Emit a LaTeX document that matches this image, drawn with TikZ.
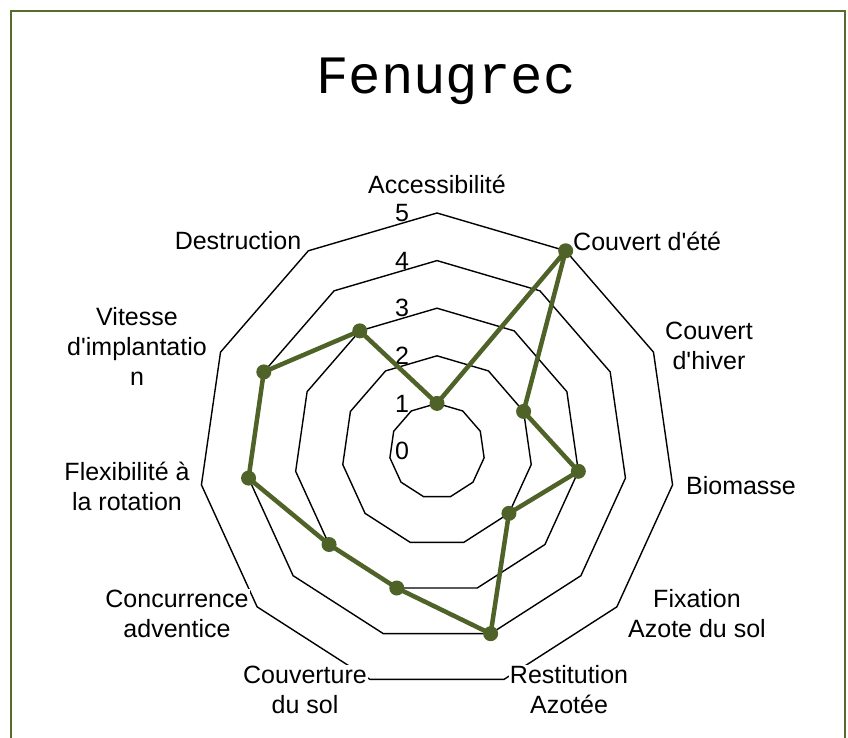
\documentclass[tikz,border=0pt]{standalone}
\usepackage{fontspec}
\newfontfamily\labfont{Liberation Sans}
\newfontfamily\titlefont{Liberation Mono}
\definecolor{dataol}{RGB}{79,98,40}
\definecolor{borderol}{RGB}{88,108,48}
\begin{document}
\begin{tikzpicture}[x=1pt,y=-1pt,
  lab/.style={font=\labfont\fontsize{25}{30}\selectfont, align=center, fill=white, inner sep=1pt},
  lvl/.style={font=\labfont\fontsize{25}{30}\selectfont, inner sep=0pt},
  gridline/.style={draw=black, line width=1.4pt, line join=miter},
  dataline/.style={draw=dataol, line width=4.5pt, line join=round},
  datadot/.style={fill=dataol}]
\useasboundingbox (0,0) rectangle (848,738);
\fill[white] (0,0) rectangle (848,738);
\draw[borderol, line width=2.6pt] (11,740) -- (11,11) -- (845,11) -- (845,740);
\node (title) at (446,81) {\titlefont\fontsize{54}{60}\selectfont Fenugrec};
\begin{scope}[shift={(437,451)}]
  \coordinate (C) at (0,0);
  \foreach \l in {1,...,5} {
    \draw[gridline] (-90:\l*47.6) \foreach \k in {1,...,10} { -- (\k*360/11-90:\l*47.6) } -- cycle;
  }
  \foreach \l in {0,...,5} {
    \node[lvl] (lv\l) at (-35,-\l*47.6) {\l};
  }
\end{scope}
% axis labels
\node[lab] (a0) at (437,184) {Accessibilité};
\node[lab, anchor=west] (a1) at (572,241) {Couvert d'été};
\node[lab] (a2) at (709,346) {Couvert\\d'hiver};
\node[lab] (a3) at (741,486) {Biomasse};
\node[lab] (a4) at (697,614) {Fixation\\Azote du sol};
\node[lab] (a5) at (569,690) {Restitution\\Azotée};
\node[lab] (a6) at (305,690) {Couverture\\du sol};
\node[lab] (a7) at (177,614) {Concurrence\\adventice};
\node[lab] (a8) at (127,486) {Flexibilité à\\la rotation};
\node[lab] (a9) at (137,346) {Vitesse\\d'implantatio\\n};
\node[lab] (a10) at (238,241) {Destruction};
% data
\begin{scope}[shift={(437,451)}]
  \foreach \v [count=\i from 0] in {1,5,2,3,2,4,3,3,4,4,3} {
    \coordinate (p\i) at (\i*360/11-90:\v*47.6);
  }
  \draw[dataline] (p0) -- (p1) -- (p2) -- (p3) -- (p4) -- (p5) -- (p6) -- (p7) -- (p8) -- (p9) -- (p10) -- cycle;
  \foreach \i in {0,...,10} { \fill[datadot] (p\i) circle (7.5pt); }
\end{scope}
\end{tikzpicture}
\end{document}
